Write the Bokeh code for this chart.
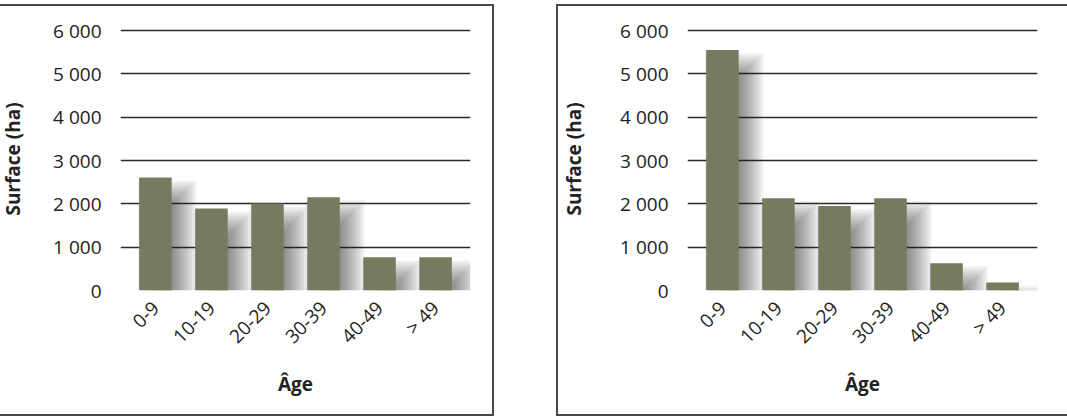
import math
from bokeh.plotting import figure
from bokeh.layouts import row
from bokeh.models import ColumnDataSource, FactorRange, Range1d, FixedTicker
from bokeh.transform import dodge
from bokeh.embed import file_html
from bokeh.resources import INLINE

# ---- data ----
categories = ["0-9", "10-19", "20-29", "30-39", "40-49", "> 49"]
surface_left = [2610, 1890, 2010, 2150, 770, 770]
surface_right = [5550, 2130, 1950, 2130, 630, 185]
y_ticks = [0, 1000, 2000, 3000, 4000, 5000, 6000]
y_tick_labels = ["0", "1 000", "2 000", "3 000", "4 000", "5 000", "6 000"]
x_title = "Âge"
y_title = "Surface (ha)"

FONT = "Open Sans"
BAR_COLOR = "#767a5f"
BAR_W = 0.58
PX_PER_UNIT_Y = 259 / 6000.0
PX_PER_CAT = 56.5


def make_panel(values, width, min_left, min_right, margin, styles, title_standoff):
    src = ColumnDataSource(dict(cat=categories, val=values,
                                bottom=[0] * len(values)))
    p = figure(x_range=FactorRange(*categories, range_padding=0.041),
               y_range=Range1d(0, 6070),
               width=width, height=412,
               output_backend="svg", toolbar_location=None,
               min_border_left=min_left, min_border_right=min_right,
               min_border_top=21, min_border_bottom=128)
    p.margin = margin
    p.styles = styles
    p.outline_line_color = None
    p.background_fill_color = "white"
    p.border_fill_color = "white"

    # soft blurred shadow (style only, derived from the same data)
    n = 12
    off_x, off_y, blur = 12.0, 16.0, 13.0
    for k in range(n):
        e = -blur + 2 * blur * k / (n - 1)
        shadow_top = [v - (off_y - e) / PX_PER_UNIT_Y for v in values]
        s2 = ColumnDataSource(dict(cat=categories, top=shadow_top))
        p.vbar(x=dodge("cat", off_x / PX_PER_CAT, range=p.x_range),
               top="top", bottom=0,
               width=max(BAR_W + 2 * e / PX_PER_CAT, 0.05), source=s2,
               fill_color="#2a2a2a", fill_alpha=0.06, line_color=None)

    p.vbar(x="cat", top="val", bottom="bottom", width=BAR_W, source=src,
           fill_color=BAR_COLOR, line_color=None)

    p.xgrid.grid_line_color = None
    p.ygrid.ticker = FixedTicker(ticks=y_ticks)
    p.ygrid.grid_line_color = "#2a2a2a"
    p.ygrid.grid_line_width = 1.6

    ya = p.yaxis[0]
    ya.ticker = FixedTicker(ticks=y_ticks)
    ya.major_label_overrides = {t: l for t, l in zip(y_ticks, y_tick_labels)}
    ya.axis_line_color = None
    ya.major_tick_line_color = None
    ya.minor_tick_line_color = None
    ya.major_label_standoff = 13
    ya.major_label_text_font = FONT
    ya.major_label_text_font_size = "19px"
    ya.major_label_text_color = "#222222"
    ya.axis_label = y_title
    ya.axis_label_text_font = FONT
    ya.axis_label_text_font_style = "bold"
    ya.axis_label_text_font_size = "19px"
    ya.axis_label_text_color = "#222222"
    ya.axis_label_standoff = title_standoff

    xa = p.xaxis[0]
    xa.axis_line_color = None
    xa.major_tick_line_color = None
    xa.minor_tick_line_color = None
    xa.major_label_orientation = math.pi / 4
    xa.major_label_standoff = 8
    xa.major_label_text_font = FONT
    xa.major_label_text_font_size = "19px"
    xa.major_label_text_color = "#222222"
    xa.axis_label = x_title
    xa.axis_label_text_font = FONT
    xa.axis_label_text_font_style = "bold"
    xa.axis_label_text_font_size = "19px"
    xa.axis_label_text_color = "#222222"
    xa.axis_label_standoff = 10
    return p


border = "2px solid #4a4a4a"
p1 = make_panel(surface_left, 497, 118, 24, (4, 0, 0, -3),
                {"border-top": border, "border-right": border,
                 "border-bottom": border, "box-sizing": "border-box"}, 24)
p2 = make_panel(surface_right, 511, 125, 32, (4, 0, 0, 62),
                {"border-top": border, "border-left": border,
                 "border-bottom": border, "box-sizing": "border-box"}, 30)

layout = row(p1, p2)
layout.margin = 0
open("out.html", "w").write(file_html(layout, INLINE))
